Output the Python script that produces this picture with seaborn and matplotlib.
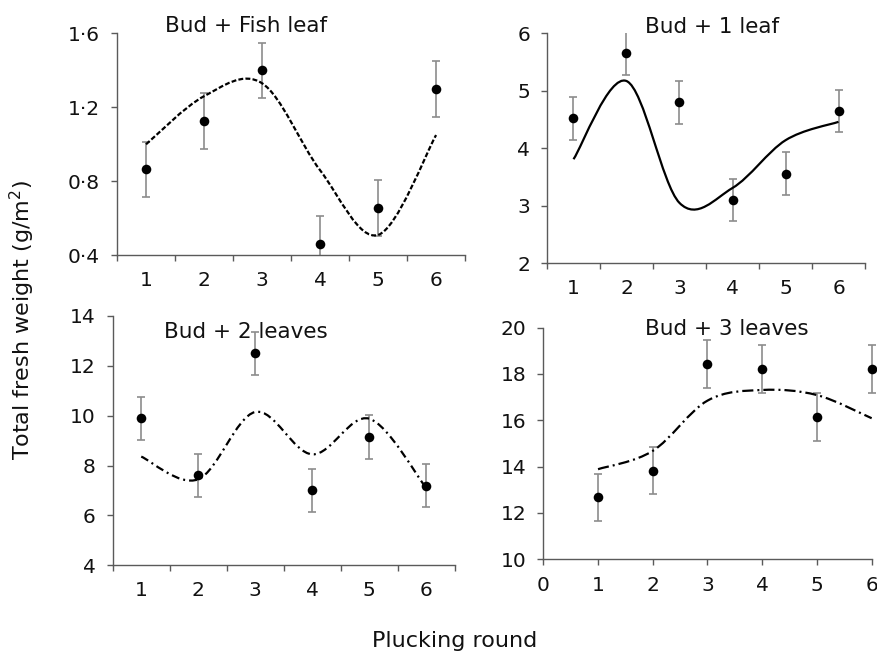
import numpy as np
import pandas as pd
import matplotlib
matplotlib.use("Agg")
import matplotlib.pyplot as plt
from matplotlib.path import Path
from matplotlib.patches import PathPatch
from matplotlib.ticker import FixedLocator, NullFormatter
import seaborn as sns

# ---- data -------------------------------------------------------------
rounds = [1, 2, 3, 4, 5, 6]
round_labels = ["1", "2", "3", "4", "5", "6"]

fish_mean = [0.865, 1.125, 1.40, 0.46, 0.655, 1.30]
fish_err = [0.15, 0.15, 0.15, 0.15, 0.15, 0.15]
fish_fit = [1.00, 1.26, 1.33, 0.86, 0.51, 1.05]
fish_yticks = [0.4, 0.8, 1.2, 1.6]
fish_yticklabels = ["0·4", "0·8", "1·2", "1·6"]

one_mean = [4.52, 5.65, 4.80, 3.10, 3.56, 4.65]
one_err = [0.37, 0.37, 0.37, 0.37, 0.37, 0.37]
one_fit = [3.81, 5.17, 3.05, 3.31, 4.14, 4.46]
one_yticks = [2, 3, 4, 5, 6]

two_mean = [9.90, 7.61, 12.50, 7.01, 9.15, 7.19]
two_err = [0.87, 0.87, 0.87, 0.87, 0.87, 0.87]
two_fit = [8.36, 7.45, 10.15, 8.45, 9.88, 7.10]
two_yticks = [4, 6, 8, 10, 12, 14]

three_mean = [12.68, 13.83, 18.43, 18.22, 16.14, 18.22]
three_err = [1.02, 1.02, 1.02, 1.02, 1.02, 1.02]
three_fit = [13.89, 14.68, 16.85, 17.31, 17.09, 16.09]
three_yticks = [10, 12, 14, 16, 18, 20]
three_xticks = [0, 1, 2, 3, 4, 5, 6]

titles = ["Bud + Fish leaf", "Bud + 1 leaf", "Bud + 2 leaves", "Bud + 3 leaves"]

# ---- style ------------------------------------------------------------
sns.set_theme(style="ticks")
plt.rcParams["font.family"] = ["DejaVu Sans"]
AXIS_COL = "#5a5a5a"
TEXT_COL = "#111111"
ERR_COL = "#8c8c8c"
TICK_FS = 14.5
TITLE_FS = 15.5


def smooth_path(xs, ys):
    """Smoothed line through the points (cubic Bezier, Catmull-Rom tangents)."""
    pts = np.column_stack([xs, ys]).astype(float)
    ext = np.vstack([pts[0], pts, pts[-1]])
    verts = [pts[0]]
    codes = [Path.MOVETO]
    for i in range(len(pts) - 1):
        p0, p1, p2, p3 = ext[i], ext[i + 1], ext[i + 2], ext[i + 3]
        c1 = p1 + (p2 - p0) / 6.0
        c2 = p2 - (p3 - p1) / 6.0
        verts += [c1, c2, p2]
        codes += [Path.CURVE4] * 3
    return Path(verts, codes)


panels = [
    dict(title=titles[0], mean=fish_mean, err=fish_err, fit=fish_fit,
         ylim=(0.4, 1.6), yticks=fish_yticks, yticklabels=fish_yticklabels,
         ls=(0, (2.2, 1.0)), rect=[0.1333, 0.609, 0.3964, 0.340],
         tpos=(0.371, 1.004), category=True, clip=True),
    dict(title=titles[1], mean=one_mean, err=one_err, fit=one_fit,
         ylim=(2, 6), yticks=one_yticks, yticklabels=None,
         ls="solid", rect=[0.623, 0.5968, 0.3622, 0.3522],
         tpos=(0.518, 1.003), category=True, clip=True),
    dict(title=titles[2], mean=two_mean, err=two_err, fit=two_fit,
         ylim=(4, 14), yticks=two_yticks, yticklabels=None,
         ls=(0, (3.6, 1.8, 0.9, 1.8)), rect=[0.1284, 0.1343, 0.3895, 0.3818],
         tpos=(0.388, 0.911), category=True, clip=True),
    dict(title=titles[3], mean=three_mean, err=three_err, fit=three_fit,
         ylim=(10, 20), yticks=three_yticks, yticklabels=None,
         ls=(0, (5.0, 1.8, 0.9, 1.8)), rect=[0.6188, 0.1435, 0.374, 0.3547],
         tpos=(0.559, 0.968), category=False, clip=False),
]

fig = plt.figure(figsize=(8.78, 6.53), dpi=100)
fig.patch.set_facecolor("white")

for p in panels:
    ax = fig.add_axes(p["rect"])
    ax.set_facecolor("white")
    df = pd.DataFrame({"round": rounds, "mean": p["mean"], "err": p["err"]})

    # fitted smooth curve
    patch = PathPatch(smooth_path(rounds, p["fit"]), fill=False,
                      edgecolor="black", lw=1.6, linestyle=p["ls"],
                      capstyle="butt", zorder=3)
    ax.add_patch(patch)

    # error bars
    eb = ax.errorbar(df["round"], df["mean"], yerr=df["err"], fmt="none",
                     ecolor=ERR_COL, elinewidth=1.2, capsize=3.2,
                     capthick=1.2, zorder=2)
    for child in eb.get_children():
        child.set_clip_on(p["clip"])

    # means
    sns.scatterplot(data=df, x="round", y="mean", ax=ax, color="black",
                    s=48, linewidth=0, zorder=5, clip_on=False, legend=False)

    ax.set_ylim(*p["ylim"])
    ax.set_yticks(p["yticks"])
    if p["yticklabels"] is not None:
        ax.set_yticklabels(p["yticklabels"])

    if p["category"]:
        ax.set_xlim(0.5, 6.5)
        ax.xaxis.set_major_locator(FixedLocator(np.arange(0.5, 7.0, 1.0)))
        ax.xaxis.set_major_formatter(NullFormatter())
        ax.xaxis.set_minor_locator(FixedLocator(rounds))
        ax.set_xticklabels(round_labels, minor=True)
        ax.tick_params(axis="x", which="minor", length=0, pad=11.0,
                       labelsize=TICK_FS, labelcolor=TEXT_COL)
    else:
        ax.set_xlim(0, 6)
        ax.set_xticks(three_xticks)
        ax.set_xticklabels([str(v) for v in three_xticks])
        ax.tick_params(axis="x", which="major", pad=7.5)

    ax.tick_params(axis="both", which="major", direction="out", length=4.3,
                   width=1.0, color=AXIS_COL, labelsize=TICK_FS,
                   labelcolor=TEXT_COL)
    ax.tick_params(axis="y", pad=8.0)

    for side in ["top", "right"]:
        ax.spines[side].set_visible(False)
    for side in ["left", "bottom"]:
        ax.spines[side].set_color(AXIS_COL)
        ax.spines[side].set_linewidth(1.0)

    ax.set_xlabel("")
    ax.set_ylabel("")
    ax.text(p["tpos"][0], p["tpos"][1], p["title"], transform=ax.transAxes,
            ha="center", va="baseline", fontsize=TITLE_FS, color=TEXT_COL,
            zorder=6)

fig.text(0.026, 0.51, "Total fresh weight (g/m$^{2}$)", rotation=90,
         ha="center", va="center", fontsize=16, color=TEXT_COL)
fig.text(0.518, 0.0087, "Plucking round", ha="center", va="baseline",
         fontsize=16, color=TEXT_COL)

fig.savefig("out.png", dpi=100, facecolor="white")
